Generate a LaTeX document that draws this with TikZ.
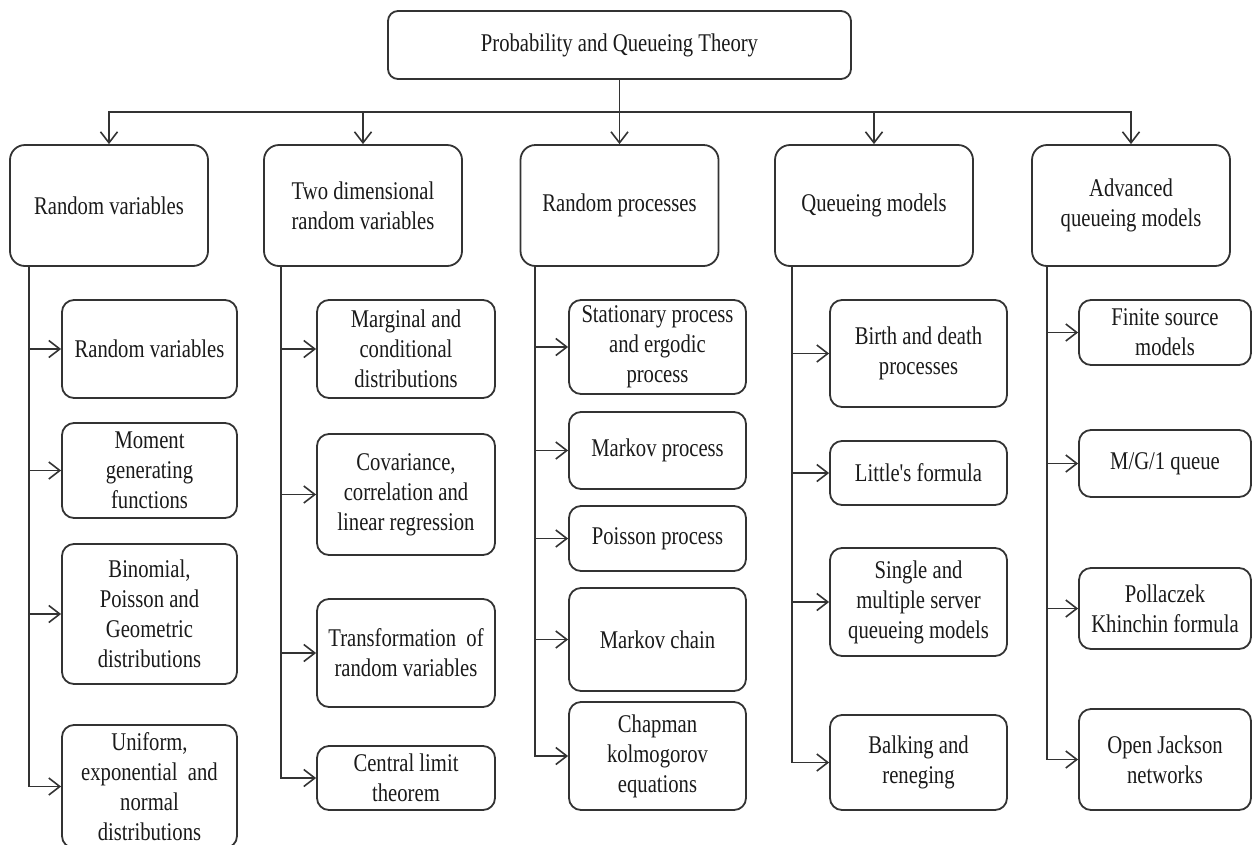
\documentclass[tikz,border=0pt]{standalone}
\usepackage{fontspec}
\setmainfont{Liberation Serif}[FakeStretch=0.81, Ligatures=TeXOff]
\usetikzlibrary{arrows.meta}

\definecolor{inkline}{HTML}{333333}
\definecolor{inktext}{HTML}{1A1A1A}

\tikzset{
  box/.style={draw=inkline, line width=1.8pt, align=center, text=inktext,
    inner sep=1pt, font=\fontsize{25.5}{30}\selectfont},
  rootbox/.style={box, rounded corners=10pt, minimum width=463pt, minimum height=68pt},
  topicbox/.style={box, rounded corners=15pt, minimum width=198pt, minimum height=121pt},
  subbox/.style={box, rounded corners=12pt},
  link/.style={draw=inkline, line width=1.8pt},
  arr/.style={link, -{Straight Barb[length=11pt, width=17pt, line width=1.6pt]}},
}

\newcommand{\topicitem}[6]{% name, cx, cy, width, height, text
  \node[subbox, minimum width=#4pt, minimum height=#5pt] (#1) at (#2,#3) {#6};}

\begin{document}
\begin{tikzpicture}[x=1pt, y=-1pt]
\clip (0,0) rectangle (1253,844);
\useasboundingbox (0,0) rectangle (1253,844);

% root and the five topics
\node[rootbox] (root) at (619.5,45) {Probability and Queueing Theory};
\node[topicbox] (c1) at (109,205.5) {Random variables};
\node[topicbox] (c2) at (363,205.5) {Two dimensional\\random variables};
\node[topicbox] (c3) at (619.5,205.5) {Random processes};
\node[topicbox] (c4) at (874,205.5) {Queueing models};
\node[topicbox] (c5) at (1131,205.5) {Advanced\\queueing models};

\coordinate (bus) at (619.5,112);
\draw[link] (root) -- (bus);
\foreach \c in {c1,c2,c3,c4,c5}
  \draw[arr] (bus) -| (\c);

% column 1
\topicitem{s11}{149.5}{349}{175}{98}{Random variables}
\topicitem{s12}{149.5}{470.5}{175}{95}{Moment\\generating\\functions}
\topicitem{s13}{149.5}{614}{175}{140}{Binomial,\\Poisson and\\Geometric\\distributions}
\topicitem{s14}{149.5}{786.5}{175}{123}{Uniform,\\exponential\ \ and\\normal\\distributions}

% column 2
\topicitem{s21}{406}{349}{178}{98}{Marginal and\\conditional\\distributions}
\topicitem{s22}{406}{494.5}{178}{121}{Covariance,\\correlation and\\linear regression}
\topicitem{s23}{406}{653}{178}{108}{Transformation\ \ of\\random variables}
\topicitem{s24}{406}{778}{178}{64}{Central limit\\theorem}

% column 3
\topicitem{s31}{657.5}{347}{177}{94}{Stationary process\\and ergodic\\process}
\topicitem{s32}{657.5}{450.5}{177}{77}{Markov process}
\topicitem{s33}{657.5}{538.5}{177}{65}{Poisson process}
\topicitem{s34}{657.5}{639.5}{177}{103}{Markov chain}
\topicitem{s35}{657.5}{756}{177}{108}{Chapman\\kolmogorov\\equations}

% column 4
\topicitem{s41}{918.5}{353.5}{177}{107}{Birth and death\\processes}
\topicitem{s42}{918.5}{473}{177}{64}{Little's formula}
\topicitem{s43}{918.5}{602}{177}{108}{Single and\\multiple server\\queueing models}
\topicitem{s44}{918.5}{762.5}{177}{95}{Balking and\\reneging}

% column 5
\topicitem{s51}{1165}{332.5}{172}{65}{Finite source\\models}
\topicitem{s52}{1165}{463.5}{172}{67}{M/G/1 queue}
\topicitem{s53}{1165}{608.5}{172}{81}{Pollaczek\\Khinchin formula}
\topicitem{s54}{1165}{759.5}{172}{101}{Open Jackson\\networks}

% feeder lines from each topic down to its subtopics
\coordinate (v1) at (29,266);
\coordinate (v2) at (281,266);
\coordinate (v3) at (535,266);
\coordinate (v4) at (792,266);
\coordinate (v5) at (1047,266);

\foreach \s in {s11,s12,s13,s14} \draw[arr] (v1) |- (\s);
\foreach \s in {s21,s22,s23,s24} \draw[arr] (v2) |- (\s);
\foreach \s in {s31,s32,s33,s34,s35} \draw[arr] (v3) |- (\s);
\foreach \s in {s41,s42,s43,s44} \draw[arr] (v4) |- (\s);
\foreach \s in {s51,s52,s53,s54} \draw[arr] (v5) |- (\s);
\end{tikzpicture}
\end{document}
